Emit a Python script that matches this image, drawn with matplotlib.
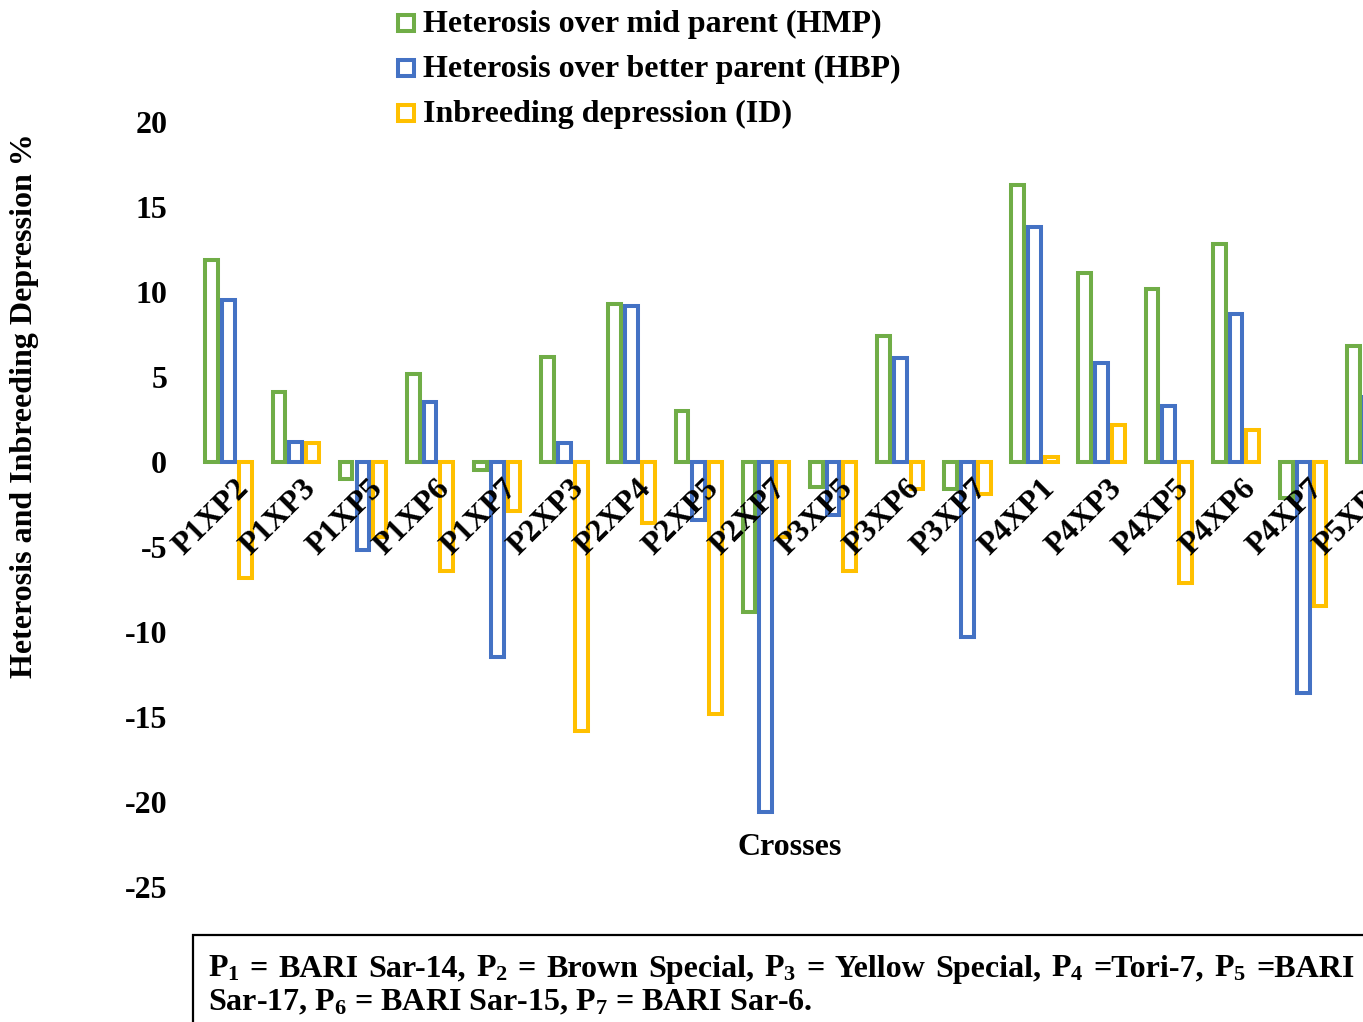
import numpy as np
import matplotlib
matplotlib.use("Agg")
from matplotlib import pyplot as plt
from matplotlib.patches import Rectangle

plt.rcParams['font.family'] = ['Liberation Serif', 'DejaVu Serif']
plt.rcParams['font.weight'] = 'bold'
plt.rcParams['axes.unicode_minus'] = False
plt.rcParams['mathtext.fontset'] = 'custom'
plt.rcParams['mathtext.rm'] = 'Liberation Serif:bold'
plt.rcParams['mathtext.it'] = 'Liberation Serif:bold'
plt.rcParams['mathtext.bf'] = 'Liberation Serif:bold'

crosses = ['P1XP2', 'P1XP3', 'P1XP5', 'P1XP6', 'P1XP7', 'P2XP3', 'P2XP4',
           'P2XP5', 'P2XP7', 'P3XP5', 'P3XP6', 'P3XP7', 'P4XP1', 'P4XP3',
           'P4XP5', 'P4XP6', 'P4XP7', 'P5XP6']
hmp = [11.9, 4.1, -1.0, 5.2, -0.5, 6.2, 9.3, 3.0, -8.8, -1.5, 7.4, -1.6,
       16.3, 11.1, 10.2, 12.8, -2.1, 6.8]
hbp = [9.5, 1.2, -5.2, 3.5, -11.5, 1.1, 9.2, -3.4, -20.6, -3.1, 6.1, -10.3,
       13.8, 5.8, 3.3, 8.7, -13.6, 3.8]
idep = [-6.8, 1.1, -4.4, -6.4, -2.9, -15.8, -3.6, -14.8, -4.4, -6.4, -1.6,
        -1.9, 0.3, 2.2, -7.1, 1.9, -8.5, np.nan]

series = [hmp, hbp, idep]
names = ['Heterosis over mid parent (HMP)',
         'Heterosis over better parent (HBP)',
         'Inbreeding depression (ID)']
colores = ['#70AD47', '#4472C4', '#FFC000']
yticks = list(range(-25, 21, 5))

W, H = 1363, 1022
FS = 23


def fx(px):
    return px / W


def fy(py):
    return 1 - py / H


def justificar(fig, texto, x0, x1, y):
    """Spread the words of one line so it fills x0..x1 (pixels)."""
    rend = fig.canvas.get_renderer()
    palabras = texto.split(' ')
    objs = [fig.text(0, fy(y), p, ha='left', va='center', fontsize=FS)
            for p in palabras]
    anchos = [o.get_window_extent(rend).width for o in objs]
    hueco = (x1 - x0 - sum(anchos)) / (len(objs) - 1)
    x = x0
    for o, a in zip(objs, anchos):
        o.set_x(fx(x))
        x += a + hueco


def main():
    fig = plt.figure(figsize=(W / 100, H / 100), dpi=100)
    ax = fig.add_axes([fx(195), fy(887), fx(W - 195), (887 - 122) / H])

    x = np.arange(len(crosses))
    for k, (vals, c) in enumerate(zip(series, colores)):
        ax.bar(x + (k - 1) * 0.25, vals, width=0.19, facecolor='white',
               edgecolor=c, linewidth=2.9)

    ax.set_xlim(-0.5, -0.5 + (W - 195) / 67.16)
    ax.set_ylim(-25, 20)
    ax.set_yticks(yticks)
    ax.set_yticklabels([str(t) for t in yticks], fontsize=FS, fontweight='bold')
    ax.tick_params(axis='y', length=0, pad=20)
    ax.set_xticks([])
    for s in ax.spines.values():
        s.set_visible(False)

    # rotated cross names hanging just under the zero line
    for i, name in enumerate(crosses):
        ax.text(i + 0.08, -0.7, name, rotation=45, rotation_mode='anchor',
                ha='right', va='top', fontsize=FS, fontweight='bold')

    fig.text(fx(25), fy(406), 'Heterosis and Inbreeding Depression %',
             rotation=90, ha='center', va='center', fontsize=FS,
             fontweight='bold')
    fig.text(fx(790), fy(847), 'Crosses', ha='center', va='center',
             fontsize=FS, fontweight='bold')

    # legend drawn by hand: hollow squares and labels
    for k, (name, c) in enumerate(zip(names, colores)):
        yc = 23 + 45 * k
        fig.add_artist(Rectangle((fx(398), fy(yc + 8)), 16 / W, 16 / H,
                                 transform=fig.transFigure, fill=False,
                                 edgecolor=c, linewidth=2.9))
        fig.text(fx(423), fy(yc + 1), name, ha='left', va='center',
                 fontsize=FS, fontweight='bold')

    # note box with parent names
    fig.add_artist(Rectangle((fx(193), fy(1030)), fx(W), (1030 - 935) / H,
                             transform=fig.transFigure, fill=False,
                             edgecolor='black', linewidth=1.6))
    linea1 = (r'P$_1$ = BARI Sar-14, P$_2$ = Brown Special, '
              r'P$_3$ = Yellow Special, P$_4$ =Tori-7, P$_5$ =BARI')
    linea2 = r'Sar-17, P$_6$ = BARI Sar-15, P$_7$ = BARI Sar-6.'
    justificar(fig, linea1, 208, 1355, 969)
    fig.text(fx(208), fy(1003), linea2, ha='left', va='center', fontsize=FS)

    fig.savefig('out.png', dpi=100)


if __name__ == "__main__":
    main()
